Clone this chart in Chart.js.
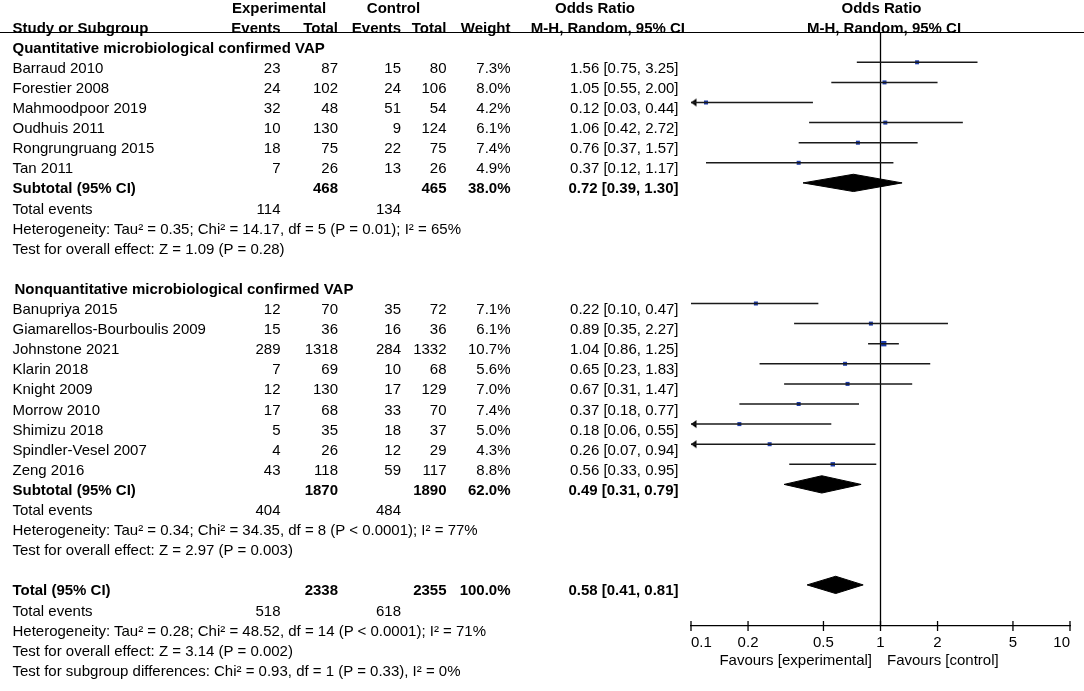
<!DOCTYPE html>
<html>
<head>
<meta charset="utf-8">
<script src="https://cdn.jsdelivr.net/npm/chart.js@4.4.1/dist/chart.umd.min.js"></script>
<style>
  html, body { margin: 0; padding: 0; background: #fff; }
  #wrap { position: relative; width: 1084px; height: 691px; overflow: hidden; background: #fff; }
  #plot { position: absolute; left: 0; top: 0; }
  #text { position: absolute; left: 0; top: 0; width: 1084px; height: 691px; pointer-events: none;
          font-family: "Liberation Sans", Arial, sans-serif; font-size: 15px; color: #000; }
  .t { position: absolute; height: 20px; line-height: 20px; white-space: nowrap; }
  .b { font-weight: bold; }
  #rule { position: absolute; left: 0; top: 31.5px; width: 1084px; height: 1.5px; background: #000; }
</style>
</head>
<body>
<div id="wrap">
  <canvas id="plot" width="1084" height="691"></canvas>
  <div id="text"><div id="rule"></div></div>
</div>
<script>
// ---------------- DATA ----------------
const groupNames = ['Quantitative microbiological confirmed VAP', 'Nonquantitative microbiological confirmed VAP'];
const studyNames = ['Barraud 2010', 'Forestier 2008', 'Mahmoodpoor 2019', 'Oudhuis 2011', 'Rongrungruang 2015', 'Tan 2011',
  'Banupriya 2015', 'Giamarellos-Bourboulis 2009', 'Johnstone 2021', 'Klarin 2018', 'Knight 2009', 'Morrow 2010',
  'Shimizu 2018', 'Spindler-Vesel 2007', 'Zeng 2016'];
const studyGroup = [0, 0, 0, 0, 0, 0, 1, 1, 1, 1, 1, 1, 1, 1, 1];
const expEvents  = [23, 24, 32, 10, 18, 7, 12, 15, 289, 7, 12, 17, 5, 4, 43];
const expTotal   = [87, 102, 48, 130, 75, 26, 70, 36, 1318, 69, 130, 68, 35, 26, 118];
const ctrlEvents = [15, 24, 51, 9, 22, 13, 35, 16, 284, 10, 17, 33, 18, 12, 59];
const ctrlTotal  = [80, 106, 54, 124, 75, 26, 72, 36, 1332, 68, 129, 70, 37, 29, 117];
const weights    = [7.3, 8.0, 4.2, 6.1, 7.4, 4.9, 7.1, 6.1, 10.7, 5.6, 7.0, 7.4, 5.0, 4.3, 8.8];
const orEst      = [1.56, 1.05, 0.12, 1.06, 0.76, 0.37, 0.22, 0.89, 1.04, 0.65, 0.67, 0.37, 0.18, 0.26, 0.56];
const orLow      = [0.75, 0.55, 0.03, 0.42, 0.37, 0.12, 0.10, 0.35, 0.86, 0.23, 0.31, 0.18, 0.06, 0.07, 0.33];
const orHigh     = [3.25, 2.00, 0.44, 2.72, 1.57, 1.17, 0.47, 2.27, 1.25, 1.83, 1.47, 0.77, 0.55, 0.94, 0.95];

const subExpTotal   = [468, 1870];
const subCtrlTotal  = [465, 1890];
const subWeight     = [38.0, 62.0];
const subEst        = [0.72, 0.49];
const subLow        = [0.39, 0.31];
const subHigh       = [1.30, 0.79];
const subExpEvents  = [114, 404];
const subCtrlEvents = [134, 484];
const subHet  = ['Heterogeneity: Tau² = 0.35; Chi² = 14.17, df = 5 (P = 0.01); I² = 65%',
                 'Heterogeneity: Tau² = 0.34; Chi² = 34.35, df = 8 (P < 0.0001); I² = 77%'];
const subTest = ['Test for overall effect: Z = 1.09 (P = 0.28)',
                 'Test for overall effect: Z = 2.97 (P = 0.003)'];

const totalLabel = 'Total (95% CI)';
const totalExpTotal = 2338, totalCtrlTotal = 2355, totalWeight = 100.0;
const totalEst = 0.58, totalLow = 0.41, totalHigh = 0.81;
const totalExpEvents = 518, totalCtrlEvents = 618;
const totalHet = 'Heterogeneity: Tau² = 0.28; Chi² = 48.52, df = 14 (P < 0.0001); I² = 71%';
const totalTest = 'Test for overall effect: Z = 3.14 (P = 0.002)';
const subgroupTest = 'Test for subgroup differences: Chi² = 0.93, df = 1 (P = 0.33), I² = 0%';

const xTicks = [0.1, 0.2, 0.5, 1, 2, 5, 10];
const favoursLabels = ['Favours [experimental]', 'Favours [control]'];
const header1 = ['Experimental', 'Control', 'Odds Ratio', 'Odds Ratio'];
const header2 = ['Study or Subgroup', 'Events', 'Total', 'Events', 'Total', 'Weight', 'M-H, Random, 95% CI', 'M-H, Random, 95% CI'];

// ---------------- LAYOUT ----------------
const W = 1084, H = 691;
const ROW0 = 62.3, ROW_H = 20.1, TEXT_DY = 5.5;
const PLOT_LEFT = 691, PLOT_RIGHT = 1070, PLOT_TOP = 32.3, AXIS_Y = 626, AXIS_H = 30;
const COL = { name: 12.5, expEv: 280.5, expTot: 338, ctlEv: 401, ctlTot: 446.5, weight: 510.5, or: 678.5 };
const X_MIN = xTicks[0], X_MAX = xTicks[xTicks.length - 1];
const DIAMOND_HALF = 0.43;   // half height of diamonds in row units
const BLUE = '#1b3aa8';

const textLayer = document.getElementById('text');
function addText(str, x, r, align, bold, yPx) {
  const d = document.createElement('div');
  d.className = 't' + (bold ? ' b' : '');
  d.textContent = str;
  const cy = (yPx !== undefined) ? yPx : ROW0 + r * ROW_H + TEXT_DY;
  d.style.top = (cy - 10) + 'px';
  if (align === 'right') { d.style.right = (W - x) + 'px'; d.style.textAlign = 'right'; }
  else if (align === 'center') { d.style.left = (x - 200) + 'px'; d.style.width = '400px'; d.style.textAlign = 'center'; }
  else { d.style.left = x + 'px'; }
  textLayer.appendChild(d);
}
const fmtOR = (e, l, h) => `${e.toFixed(2)} [${l.toFixed(2)}, ${h.toFixed(2)}]`;

// headers
addText(header1[0], 279, -3, 'center', true);
addText(header1[1], 393.5, -3, 'center', true);
addText(header1[2], 595, -3, 'center', true);
addText(header1[3], 881.5, -3, 'center', true);
addText(header2[0], COL.name, -2, 'left', true);
addText(header2[1], COL.expEv, -2, 'right', true);
addText(header2[2], COL.expTot, -2, 'right', true);
addText(header2[3], COL.ctlEv, -2, 'right', true);
addText(header2[4], COL.ctlTot, -2, 'right', true);
addText(header2[5], COL.weight, -2, 'right', true);
addText(header2[6], 685, -2, 'right', true);
addText(header2[7], 884, -2, 'center', true);

// rows
const studyRow = [];
const diamonds = []; // {est, lo, hi, r}
let r = -1;
groupNames.forEach((g, gi) => {
  addText(g, COL.name + (gi === 0 ? 0 : 2), r, 'left', true);
  r++;
  studyNames.forEach((s, i) => {
    if (studyGroup[i] !== gi) return;
    studyRow[i] = r;
    addText(s, COL.name, r, 'left', false);
    addText(String(expEvents[i]), COL.expEv, r, 'right');
    addText(String(expTotal[i]), COL.expTot, r, 'right');
    addText(String(ctrlEvents[i]), COL.ctlEv, r, 'right');
    addText(String(ctrlTotal[i]), COL.ctlTot, r, 'right');
    addText(weights[i].toFixed(1) + '%', COL.weight, r, 'right');
    addText(fmtOR(orEst[i], orLow[i], orHigh[i]), COL.or, r, 'right');
    r++;
  });
  addText('Subtotal (95% CI)', COL.name, r, 'left', true);
  addText(String(subExpTotal[gi]), COL.expTot, r, 'right', true);
  addText(String(subCtrlTotal[gi]), COL.ctlTot, r, 'right', true);
  addText(subWeight[gi].toFixed(1) + '%', COL.weight, r, 'right', true);
  addText(fmtOR(subEst[gi], subLow[gi], subHigh[gi]), COL.or, r, 'right', true);
  diamonds.push({ est: subEst[gi], lo: subLow[gi], hi: subHigh[gi], r });
  r++;
  addText('Total events', COL.name, r, 'left');
  addText(String(subExpEvents[gi]), COL.expEv, r, 'right');
  addText(String(subCtrlEvents[gi]), COL.ctlEv, r, 'right');
  r++;
  addText(subHet[gi], COL.name, r, 'left'); r++;
  addText(subTest[gi], COL.name, r, 'left'); r++;
  r++; // blank line
});
addText(totalLabel, COL.name, r, 'left', true);
addText(String(totalExpTotal), COL.expTot, r, 'right', true);
addText(String(totalCtrlTotal), COL.ctlTot, r, 'right', true);
addText(totalWeight.toFixed(1) + '%', COL.weight, r, 'right', true);
addText(fmtOR(totalEst, totalLow, totalHigh), COL.or, r, 'right', true);
diamonds.push({ est: totalEst, lo: totalLow, hi: totalHigh, r });
r++;
addText('Total events', COL.name, r, 'left');
addText(String(totalExpEvents), COL.expEv, r, 'right');
addText(String(totalCtrlEvents), COL.ctlEv, r, 'right');
r++;
addText(totalHet, COL.name, r, 'left'); r++;
addText(totalTest, COL.name, r, 'left'); r++;
addText(subgroupTest, COL.name, r, 'left'); r++;

// favours labels (below axis)
addText(favoursLabels[0], 872, 0, 'right', false, 659.5);
addText(favoursLabels[1], 887, 0, 'left', false, 659.5);

// ---------------- CHART ----------------
Chart.defaults.font.family = '"Liberation Sans", Arial, sans-serif';
Chart.defaults.font.size = 15;
Chart.defaults.color = '#000';

// arrow head image (tip at centre so it sits on the axis minimum)
const arrow = document.createElement('canvas');
arrow.width = 14; arrow.height = 10;
(function () {
  const c = arrow.getContext('2d');
  c.fillStyle = '#000';
  c.beginPath(); c.moveTo(7, 5); c.lineTo(12.5, 1); c.lineTo(12.5, 9); c.closePath(); c.fill();
})();

const squareRadius = w => Math.max(4, 0.5 * w) / Math.SQRT2;

const datasets = [];
studyNames.forEach((s, i) => {
  datasets.push({
    type: 'line', label: s,
    data: [{ x: Math.max(orLow[i], X_MIN), y: studyRow[i] }, { x: Math.min(orHigh[i], X_MAX), y: studyRow[i] }],
    borderColor: '#1a1a1a', borderWidth: 1.5, pointRadius: 0, pointHoverRadius: 0, fill: false, tension: 0
  });
});
datasets.push({
  type: 'scatter', label: 'Odds ratio',
  data: studyNames.map((s, i) => ({ x: orEst[i], y: studyRow[i] })),
  pointStyle: 'rect',
  pointRadius: weights.map(squareRadius),
  pointHoverRadius: weights.map(squareRadius),
  backgroundColor: BLUE, borderWidth: 0, clip: false
});
datasets.push({
  type: 'scatter', label: 'Arrows',
  data: studyNames.map((s, i) => orLow[i] < X_MIN ? { x: X_MIN, y: studyRow[i] } : null).filter(Boolean),
  pointStyle: arrow, pointRadius: 6, clip: false
});
diamonds.forEach((d, k) => {
  datasets.push({
    type: 'line', label: 'Pooled ' + k,
    data: [{ x: d.lo, y: d.r }, { x: d.est, y: d.r - DIAMOND_HALF }, { x: d.hi, y: d.r },
           { x: d.est, y: d.r + DIAMOND_HALF }, { x: d.lo, y: d.r }],
    borderColor: '#000', borderWidth: 1, backgroundColor: '#000',
    fill: 'shape', pointRadius: 0, pointHoverRadius: 0, tension: 0
  });
});

const refLine = {
  id: 'refLine',
  beforeDatasetsDraw(chart) {
    const { ctx, chartArea, scales } = chart;
    const x = scales.x.getPixelForValue(1);
    ctx.save();
    ctx.strokeStyle = '#000'; ctx.lineWidth = 1.3;
    ctx.beginPath(); ctx.moveTo(x, chartArea.top); ctx.lineTo(x, chartArea.bottom); ctx.stroke();
    ctx.restore();
  },
  afterDraw(chart) {
    const { ctx, chartArea, scales } = chart;
    ctx.save();
    ctx.strokeStyle = '#000'; ctx.lineWidth = 1.3;
    scales.x.ticks.forEach(t => {
      const x = scales.x.getPixelForValue(t.value);
      ctx.beginPath(); ctx.moveTo(x, chartArea.bottom - 5); ctx.lineTo(x, chartArea.bottom + 5); ctx.stroke();
    });
    ctx.restore();
  }
};

const yTop = (PLOT_TOP - ROW0) / ROW_H;
const yBottom = (AXIS_Y - ROW0) / ROW_H;

new Chart(document.getElementById('plot'), {
  type: 'scatter',
  data: { datasets },
  options: {
    responsive: false, animation: false,
    layout: { padding: { left: PLOT_LEFT, right: W - PLOT_RIGHT, top: PLOT_TOP, bottom: H - AXIS_Y - AXIS_H } },
    plugins: { legend: { display: false }, tooltip: { enabled: false } },
    events: [],
    scales: {
      x: {
        type: 'logarithmic', min: X_MIN, max: X_MAX, position: 'bottom',
        afterBuildTicks: s => { s.ticks = xTicks.map(v => ({ value: v })); },
        afterFit: s => { s.height = AXIS_H; },
        ticks: { callback: v => String(v), align: 'inner', padding: 8, maxRotation: 0, autoSkip: false,
                 font: { size: 15 }, color: '#000' },
        grid: { display: false, drawTicks: false },
        border: { display: true, color: '#000', width: 1.3 }
      },
      y: {
        type: 'linear', reverse: true, min: yTop, max: yBottom, bounds: 'data', display: false
      }
    }
  },
  plugins: [refLine]
});
</script>
</body>
</html>
